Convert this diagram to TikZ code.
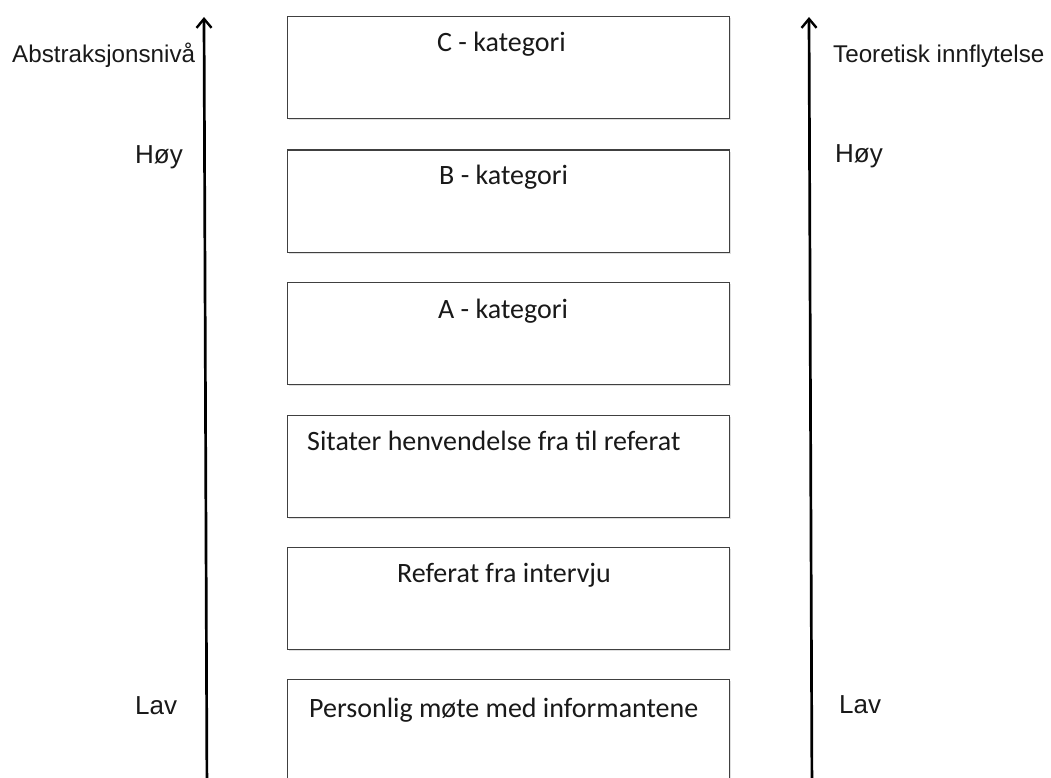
\documentclass[tikz,border=0pt]{standalone}
\usepackage{fontspec}
\setmainfont{Liberation Sans}
\newfontfamily\boxfont{Carlito}
\usetikzlibrary{arrows.meta,shadows}
\begin{document}
\begin{tikzpicture}[x=1pt,y=-1pt,
  levelbox/.style={draw=black!75, line width=1.3pt, fill=white, rectangle, minimum width=442pt, minimum height=102pt, inner sep=0pt, anchor=north west,
    drop shadow={opacity=0.25, shadow xshift=1pt, shadow yshift=-1.5pt}},
  boxtext/.style={anchor=base west, inner sep=0pt, font=\boxfont\fontsize{28}{33}\selectfont, text=black!90},
  axistitle/.style={anchor=base west, inner sep=0pt, font=\fontsize{24.2}{28}\selectfont, text=black!90},
  levellabel/.style={anchor=base west, inner sep=0pt, font=\fontsize{26}{30}\selectfont, text=black!90},
  axisarrow/.style={line width=2.7pt, -{Straight Barb[length=9pt,width=15pt,line width=2.4pt]}}]
\useasboundingbox (0,0) rectangle (1051,778);
\clip (0,0) rectangle (1051,778);
\fill[white] (0,0) rectangle (1051,778);

% boxes
\node[levelbox] (c) at (287,16) {};
\node[levelbox] (b) at (287,149.5) {};
\node[levelbox] (a) at (287,282) {};
\node[levelbox] (s) at (287,414.5) {};
\node[levelbox] (r) at (287,547) {};
\node[levelbox, minimum height=140pt] (p) at (287,679) {};

% box texts
\node[boxtext] (ct) at (437,52) {C - kategori};
\node[boxtext] (bt) at (439,184) {B - kategori};
\node[boxtext] (at) at (438,318) {A - kategori};
\node[boxtext] (st) at (307,450) {Sitater henvendelse fra til referat};
\node[boxtext] (rt) at (397,582) {Referat fra intervju};
\node[boxtext] (pt) at (309,717) {Personlig møte med informantene};

% axes
\coordinate (l0) at (207,800);
\coordinate (l1) at (204,17);
\coordinate (r0) at (812,800);
\coordinate (r1) at (809,17);
\draw[axisarrow] (l0) -- (l1);
\draw[axisarrow] (r0) -- (r1);

% labels
\node[axistitle] (abs) at (12,63) {Abstraksjonsnivå};
\node[axistitle] (teo) at (833,63) {Teoretisk innflytelse};
\node[levellabel] (hl) at (135,164) {Høy};
\node[levellabel] (hr) at (835,163) {Høy};
\node[levellabel] (ll) at (135,714) {Lav};
\node[levellabel] (lr) at (839,713) {Lav};
\end{tikzpicture}
\end{document}
